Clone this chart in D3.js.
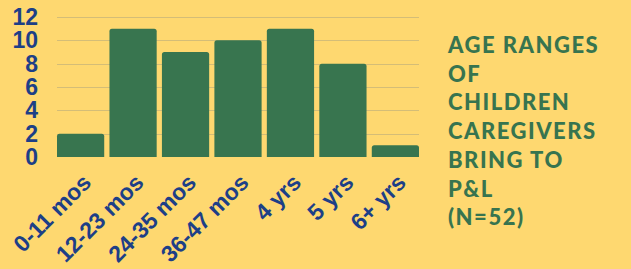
<html>
  <head>
    <script src="https://cdn.jsdelivr.net/npm/d3@7/dist/d3.min.js" charset="UTF-8"></script>
    <style type="text/css">
    body { margin: 0; background: #fed870; }
    text.tick-y, text.tick-x {
      font-family: "Liberation Sans", Arial, sans-serif;
      font-weight: bold;
      fill: #1d3f87;
    }
    text.title {
      font-family: Lato, "Open Sans", sans-serif;
      font-weight: 900;
      fill: #37744f;
    }
    line.grid {
      stroke: #d4bd77;
      stroke-width: 1.0;
    }
    rect.bar {
      fill: #38754f;
    }
    </style>
  </head>
  <body>
    <script type="text/javascript">

      var categories = ["0-11 mos", "12-23 mos", "24-35 mos", "36-47 mos", "4 yrs", "5 yrs", "6+ yrs"];
      var counts = [2, 11, 9, 10, 11, 8, 1];
      var yTicks = [0, 2, 4, 6, 8, 10, 12];
      var titleLines = ["AGE RANGES", "OF", "CHILDREN", "CAREGIVERS", "BRING TO", "P&L", "(N=52)"];

      var width = 631;
      var height = 269;

      var svg = d3.select("body").append("svg")
        .attr("width", width)
        .attr("height", height);

      svg.append("rect")
        .attr("width", width)
        .attr("height", height)
        .attr("fill", "#fed870");

      var x = d3.scaleBand()
        .domain(categories)
        .range([57, 419])
        .paddingInner(0.1)
        .paddingOuter(0.0);

      var y = d3.scaleLinear()
        .domain([0, 12])
        .range([157, 17]);

      /* grid */
      svg.selectAll("line.grid")
        .data(yTicks.filter(function(d) { return d > 0; }))
        .enter()
        .append("line")
        .attr("class", "grid")
        .attr("x1", 57)
        .attr("x2", 419)
        .attr("y1", function(d) { return Math.round(y(d)) + 0.5; })
        .attr("y2", function(d) { return Math.round(y(d)) + 0.5; });

      /* y tick labels */
      svg.selectAll("text.tick-y")
        .data(yTicks)
        .enter()
        .append("text")
        .attr("class", "tick-y")
        .attr("x", 38)
        .attr("y", function(d) { return y(d) + 8; })
        .attr("text-anchor", "end")
        .style("font-size", "23px")
        .text(function(d) { return d; });

      /* bars */
      svg.selectAll("rect.bar")
        .data(counts)
        .enter()
        .append("rect")
        .attr("class", "bar")
        .attr("x", function(d, i) { return x(categories[i]); })
        .attr("y", function(d) { return y(d); })
        .attr("width", x.bandwidth())
        .attr("height", function(d) { return y(0) - y(d) + 3; })
        .attr("rx", 2.5);

      /* cover rounded bottoms */
      svg.append("rect")
        .attr("x", 50)
        .attr("y", y(0))
        .attr("width", 380)
        .attr("height", 5)
        .attr("fill", "#fed870");

      /* x tick labels */
      svg.selectAll("text.tick-x")
        .data(categories)
        .enter()
        .append("text")
        .attr("class", "tick-x")
        .attr("text-anchor", "end")
        .style("font-size", "23px")
        .attr("transform", function(d) {
          return "translate(" + (x(d) + x.bandwidth() / 2 + 12) + "," + 184 + ") rotate(-45)";
        })
        .text(function(d) { return d; });

      /* title */
      svg.selectAll("text.title")
        .data(titleLines)
        .enter()
        .append("text")
        .attr("class", "title")
        .attr("x", 448)
        .attr("y", function(d, i) { return 53 + i * 28.7; })
        .style("font-size", "22px")
        .style("letter-spacing", "1.5px")
        .text(function(d) { return d; });

    </script>
  </body>
</html>
